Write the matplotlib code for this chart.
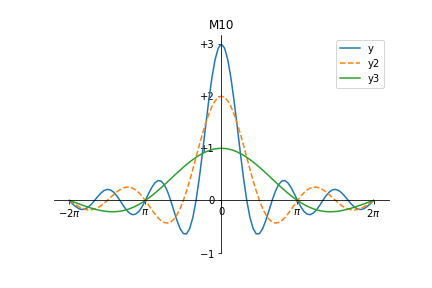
import numpy as np
import matplotlib
matplotlib.use("Agg")
import matplotlib.pyplot as plt

# x sample positions (radians)
x_pos = [0.0, 0.1309, 0.2618, 0.3927, 0.5236, 0.6545, 0.7854, 0.9163, 1.0472, 1.1781,
         1.3090, 1.4399, 1.5708, 1.7017, 1.8326, 1.9635, 2.0944, 2.2253, 2.3562, 2.4871,
         2.6180, 2.7489, 2.8798, 3.0107, 3.1416, 3.2725, 3.4034, 3.5343, 3.6652, 3.7961,
         3.9270, 4.0579, 4.1888, 4.3197, 4.4506, 4.5815, 4.7124, 4.8433, 4.9742, 5.1051,
         5.2360, 5.3669, 5.4978, 5.6287, 5.7596, 5.8905, 6.0214, 6.1523, 6.2832]
x_neg = [-6.2832, -6.1523, -6.0214, -5.8905, -5.7596, -5.6287, -5.4978, -5.3669, -5.2360,
         -5.1051, -4.9742, -4.8433, -4.7124, -4.5815, -4.4506, -4.3197, -4.1888, -4.0579,
         -3.9270, -3.7961, -3.6652, -3.5343, -3.4034, -3.2725, -3.1416, -3.0107, -2.8798,
         -2.7489, -2.6180, -2.4871, -2.3562, -2.2253, -2.0944, -1.9635, -1.8326, -1.7017,
         -1.5708, -1.4399, -1.3090, -1.1781, -1.0472, -0.9163, -0.7854, -0.6545, -0.5236,
         -0.3927, -0.2618, -0.1309]
x_vals = x_neg + x_pos

y_vals = [0.000, -0.062, -0.117, -0.157, -0.174, -0.164, -0.129, -0.071, 0.000, 0.075,
          0.142, 0.191, 0.212, 0.202, 0.159, 0.089, 0.000, -0.094, -0.180, -0.243,
          -0.273, -0.261, -0.208, -0.117, 0.000, 0.127, 0.246, 0.336, 0.382, 0.371,
          0.300, 0.172, 0.000, -0.195, -0.386, -0.543, -0.637, -0.642, -0.540, -0.325,
          0.000, 0.418, 0.900, 1.412, 1.910, 2.353, 2.701, 2.923,
          3.000, 2.923, 2.701, 2.353, 1.910, 1.412, 0.900, 0.418, 0.000, -0.325,
          -0.540, -0.642, -0.637, -0.543, -0.386, -0.195, 0.000, 0.172, 0.300, 0.371,
          0.382, 0.336, 0.246, 0.127, 0.000, -0.117, -0.208, -0.261, -0.273, -0.243,
          -0.180, -0.094, 0.000, 0.089, 0.159, 0.202, 0.212, 0.191, 0.142, 0.075,
          0.000, -0.071, -0.129, -0.164, -0.174, -0.157, -0.117, -0.062, 0.000]

y2_vals = [0.000, -0.042, -0.083, -0.120, -0.150, -0.172, -0.182, -0.180, -0.165, -0.139,
           -0.101, -0.053, 0.000, 0.056, 0.112, 0.164, 0.207, 0.238, 0.255, 0.254,
           0.236, 0.200, 0.147, 0.079, 0.000, -0.086, -0.174, -0.257, -0.331, -0.388,
           -0.424, -0.434, -0.414, -0.360, -0.273, -0.152, 0.000, 0.180, 0.382, 0.600,
           0.827, 1.054, 1.273, 1.476, 1.654, 1.801, 1.910, 1.977,
           2.000, 1.977, 1.910, 1.801, 1.654, 1.476, 1.273, 1.054, 0.827, 0.600,
           0.382, 0.180, 0.000, -0.152, -0.273, -0.360, -0.414, -0.434, -0.424, -0.388,
           -0.331, -0.257, -0.174, -0.086, 0.000, 0.079, 0.147, 0.200, 0.236, 0.254,
           0.255, 0.238, 0.207, 0.164, 0.112, 0.056, 0.000, -0.053, -0.101, -0.139,
           -0.165, -0.180, -0.182, -0.172, -0.150, -0.120, -0.083, -0.042, 0.000]

y3_vals = [0.000, -0.021, -0.043, -0.065, -0.087, -0.108, -0.129, -0.148, -0.165, -0.181,
           -0.194, -0.205, -0.212, -0.216, -0.217, -0.214, -0.207, -0.196, -0.180, -0.160,
           -0.136, -0.108, -0.076, -0.040, 0.000, 0.043, 0.090, 0.139, 0.191, 0.245,
           0.300, 0.357, 0.414, 0.471, 0.527, 0.583, 0.637, 0.689, 0.738, 0.784,
           0.827, 0.866, 0.900, 0.930, 0.955, 0.975, 0.989, 0.997,
           1.000, 0.997, 0.989, 0.975, 0.955, 0.930, 0.900, 0.866, 0.827, 0.784,
           0.738, 0.689, 0.637, 0.583, 0.527, 0.471, 0.414, 0.357, 0.300, 0.245,
           0.191, 0.139, 0.090, 0.043, 0.000, -0.040, -0.076, -0.108, -0.136, -0.160,
           -0.180, -0.196, -0.207, -0.214, -0.217, -0.216, -0.212, -0.205, -0.194, -0.181,
           -0.165, -0.148, -0.129, -0.108, -0.087, -0.065, -0.043, -0.021, 0.000]

x_tick_pos = [-2 * np.pi, -np.pi, 0, np.pi, 2 * np.pi]
x_tick_labels = [r'$-2\pi$', r'$\pi$', '0', r'$\pi$', r'$2\pi$']
y_tick_pos = [-1, 0, 1, 2, 3]
y_tick_labels = ['$-1$', '0', '+1', '+2', '+3']

fig = plt.figure(figsize=(6, 4), dpi=72)
ax = fig.add_subplot(111)
fig.subplots_adjust(left=0.125, right=0.9, top=0.88, bottom=0.123)

ax.plot(x_vals, y_vals, label='y')
ax.plot(x_vals, y2_vals, '--', label='y2')
ax.plot(x_vals, y3_vals, label='y3')

ax.spines['left'].set_position(('data', 0))
ax.spines['bottom'].set_position(('data', 0))
ax.spines['top'].set_visible(False)
ax.spines['right'].set_visible(False)

ax.set_xticks(x_tick_pos)
ax.set_xticklabels(x_tick_labels)
ax.set_yticks(y_tick_pos)
ax.set_yticklabels(y_tick_labels)

ax.set_xlim(-6.912, 6.912)
ax.set_ylim(-1.0, 3.1825)

ax.set_title('M10')
ax.legend(loc='upper right')

fig.savefig('out.png', dpi=72)
